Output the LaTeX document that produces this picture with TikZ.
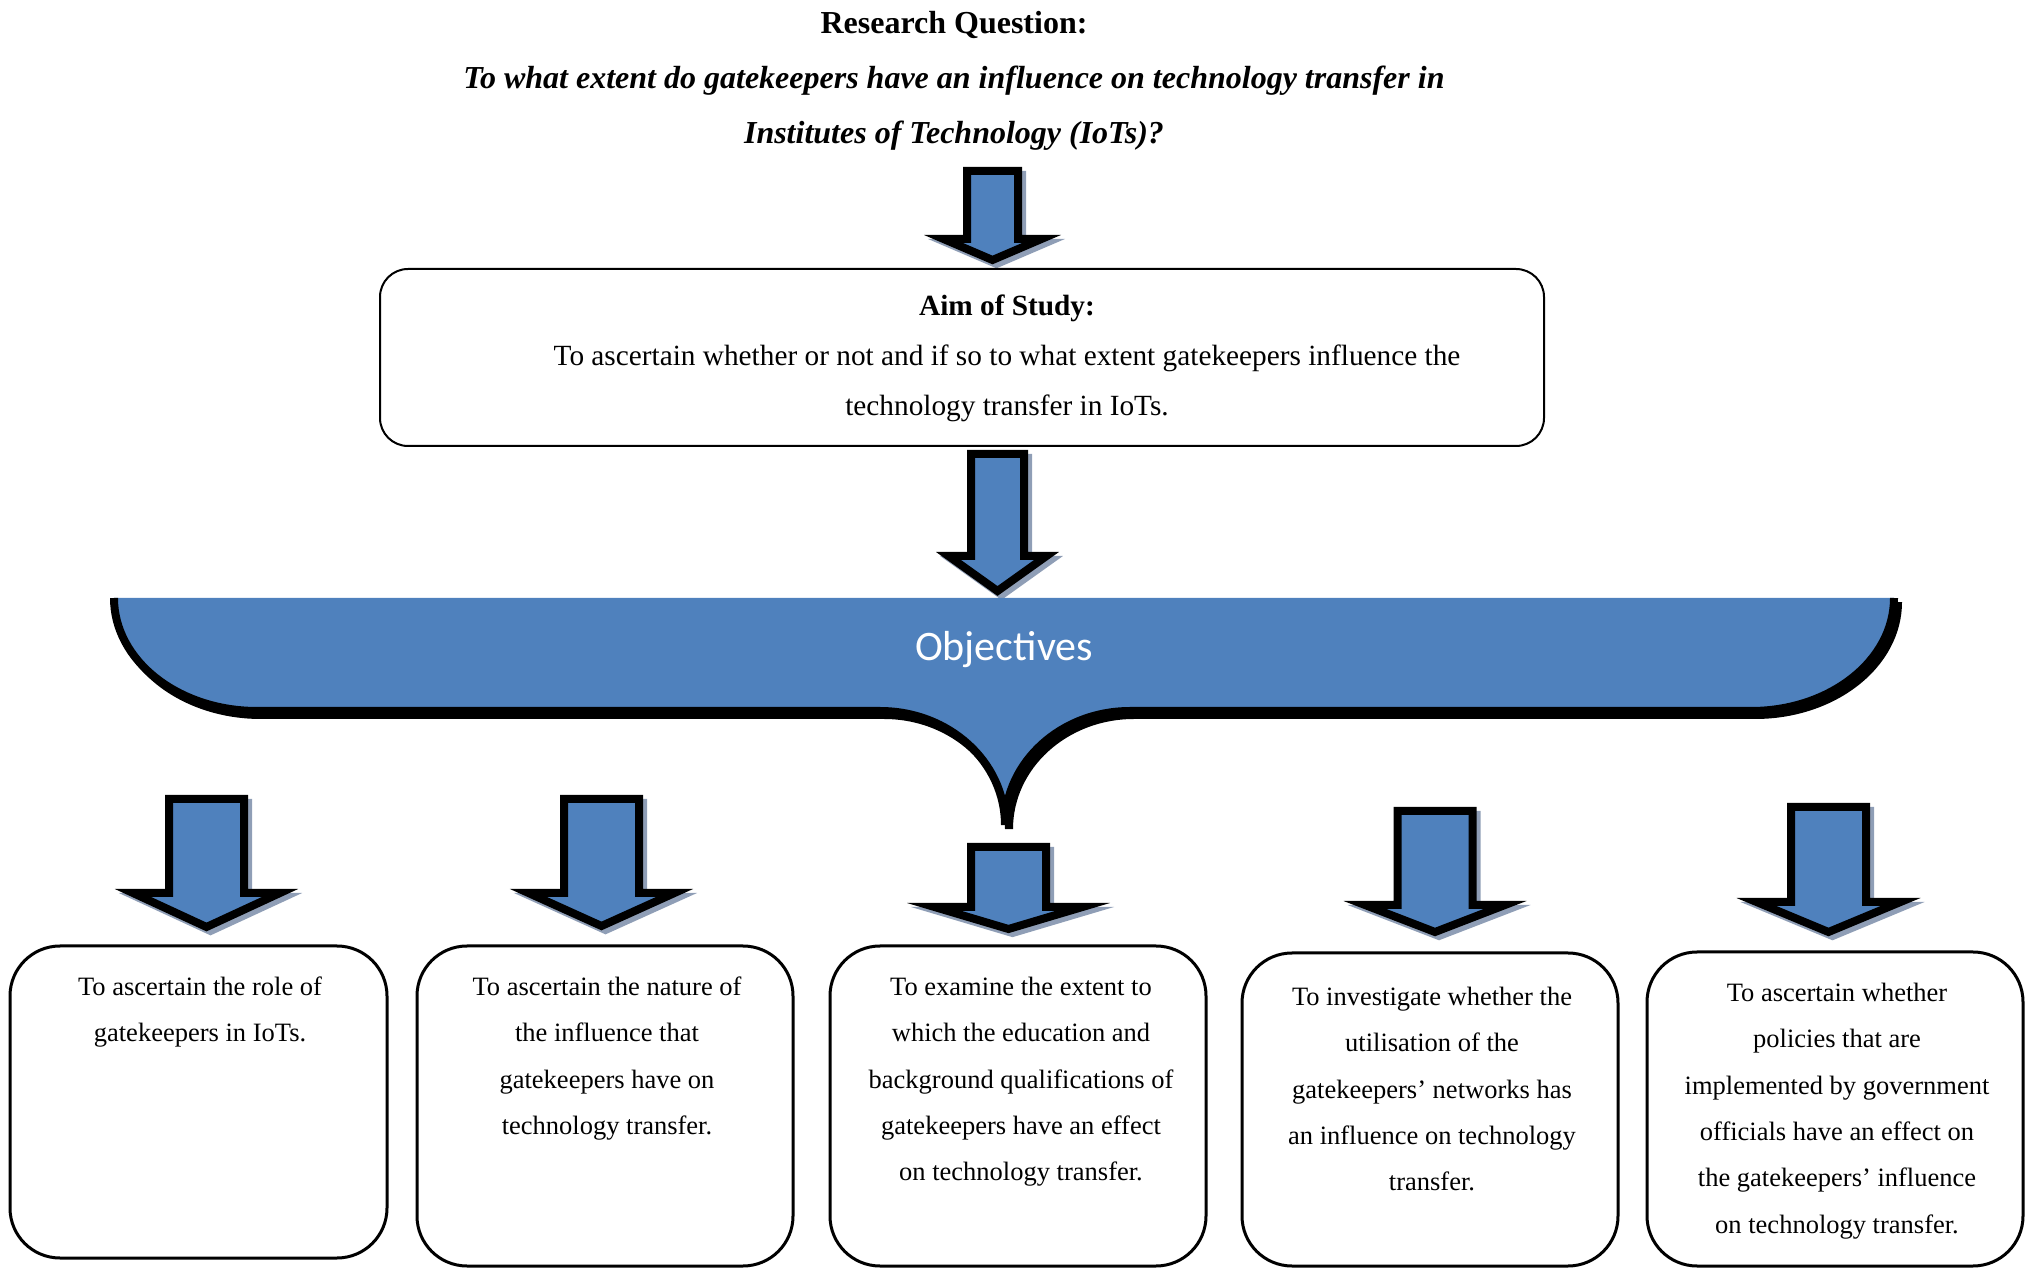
\documentclass[tikz,border=0pt]{standalone}
\usepackage{fontspec}
\setmainfont{Liberation Serif}
\newfontfamily\objfont{Carlito}

\definecolor{arrowblue}{RGB}{79,129,189}
\definecolor{shade}{RGB}{143,158,182}

% invisible rule that fixes the height of a node's first line
\newcommand\lead[1]{\rule{0pt}{#1pt}}

% block arrow pointing down: centre x, top y, shaft half width, wing y, wing half width, tip y
\newcommand\downblock[6]{%
  \path[arrowshadow, shift={(4,-4)}]
    ({#1-#3},#2) -- ({#1+#3},#2) -- ({#1+#3},#4) -- ({#1+#5},#4) -- (#1,#6)
    -- ({#1-#5},#4) -- ({#1-#3},#4) -- cycle;
  \path[blockarrow]
    ({#1-#3},#2) -- ({#1+#3},#2) -- ({#1+#3},#4) -- ({#1+#5},#4) -- (#1,#6)
    -- ({#1-#5},#4) -- ({#1-#3},#4) -- cycle;
}

\tikzset{
  blockarrow/.style={fill=arrowblue, draw=black, line width=8pt, line join=miter},
  arrowshadow/.style={fill=shade, draw=shade, line width=8pt, line join=miter},
  objbox/.style={draw=black, line width=3pt, rounded corners=50pt, inner sep=0pt},
  aimbox/.style={draw=black, line width=2pt, rounded corners=28pt, inner sep=0pt},
  titletext/.style={align=center, inner sep=0pt, anchor=north,
    font=\fontsize{32}{55}\selectfont},
  aimtext/.style={align=center, inner sep=0pt, anchor=north,
    font=\fontsize{29.3}{50}\selectfont},
  objtext/.style={align=center, inner sep=0pt, anchor=north,
    font=\fontsize{26.5}{46.4}\selectfont},
}

\begin{document}
\begin{tikzpicture}[x=1pt, y=1pt]
\useasboundingbox (0,0) rectangle (2026,1267);

% research question
\node[titletext] (rq) at (954,1260) {\lead{26}\textbf{Research Question:}\\
  \textbf{\textit{To what extent do gatekeepers have an influence on technology transfer in}}\\
  \textbf{\textit{Institutes of Technology (IoTs)?}}};

\downblock{992.5}{1096}{25.5}{1028}{49}{1007}

% aim of study
\node[aimbox, minimum width=1164pt, minimum height=177pt] (aim) at (962,909.5) {};
\node[aimtext] (aimtxt) at (1007,976) {\lead{24}\textbf{Aim of Study:}\\
  To ascertain whether or not and if so to what extent gatekeepers influence the\\
  technology transfer in IoTs.};

\downblock{997.5}{813}{26.5}{711}{49}{676}

% objectives brace
\draw[shade, line width=8pt, shift={(4,-4)}]
  (114,669) arc[start angle=180, end angle=270, x radius=143, y radius=113]
  -- (880,556) arc[start angle=90, end angle=0, x radius=125, y radius=114]
  arc[start angle=180, end angle=90, x radius=125, y radius=114]
  -- (1751,556) arc[start angle=270, end angle=360, x radius=143, y radius=113];
\fill[arrowblue]
  (114,669) arc[start angle=180, end angle=270, x radius=143, y radius=113]
  -- (880,556) arc[start angle=90, end angle=0, x radius=125, y radius=114]
  arc[start angle=180, end angle=90, x radius=125, y radius=114]
  -- (1751,556) arc[start angle=270, end angle=360, x radius=143, y radius=113]
  -- cycle;
\draw[black, line width=8pt]
  (114,669) arc[start angle=180, end angle=270, x radius=143, y radius=113]
  -- (880,556) arc[start angle=90, end angle=0, x radius=125, y radius=114]
  arc[start angle=180, end angle=90, x radius=125, y radius=114]
  -- (1751,556) arc[start angle=270, end angle=360, x radius=143, y radius=113];
\node[text=white, font=\objfont\fontsize{42}{50}\selectfont] (obj) at (1004,617) {Objectives};

% arrows to the objectives
\downblock{206.5}{468}{37.5}{374}{73.5}{340}
\downblock{601.5}{468}{37.5}{374}{73}{341}
\downblock{1008.5}{420}{37.5}{360}{74}{338}
\downblock{1435}{456}{37.5}{362}{70}{335}
\downblock{1828.5}{460}{37.5}{365}{72}{335}

% objective boxes
\node[objbox, minimum width=377pt, minimum height=312pt] (b1) at (198.5,165) {};
\node[objbox, minimum width=376pt, minimum height=320pt] (b2) at (605,161) {};
\node[objbox, minimum width=376pt, minimum height=320pt] (b3) at (1018,161) {};
\node[objbox, minimum width=376pt, minimum height=313pt] (b4) at (1430,157.5) {};
\node[objbox, minimum width=376pt, minimum height=314pt] (b5) at (1835,158) {};

\node[objtext] (t1) at (200,294) {\lead{22}To ascertain the role of\\ gatekeepers in IoTs.};
\node[objtext] (t2) at (607,294) {\lead{22}To ascertain the nature of\\ the influence that\\
  gatekeepers have on\\ technology transfer.};
\node[objtext] (t3) at (1021,294) {\lead{22}To examine the extent to\\ which the education and\\
  background qualifications of\\ gatekeepers have an effect\\ on technology transfer.};
\node[objtext] (t4) at (1432,284) {\lead{22}To investigate whether the\\ utilisation of the\\
  gatekeepers' networks has\\ an influence on technology\\ transfer.};
\node[objtext] (t5) at (1837,288) {\lead{22}To ascertain whether\\ policies that are\\
  implemented by government\\ officials have an effect on\\ the gatekeepers' influence\\
  on technology transfer.};
\end{tikzpicture}
\end{document}
